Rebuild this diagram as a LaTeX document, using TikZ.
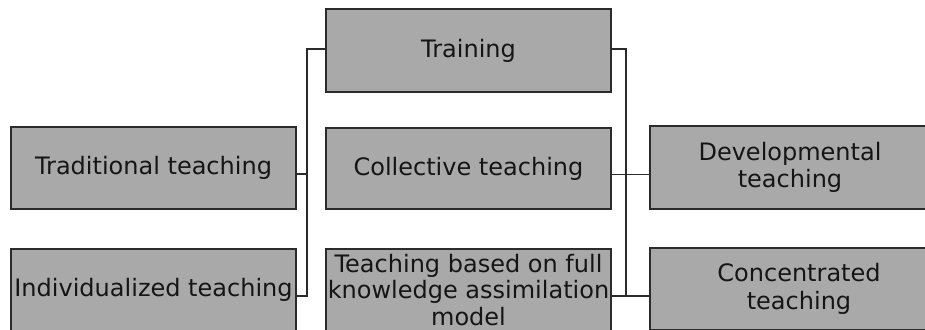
\documentclass[tikz,border=0pt]{standalone}
\usepackage{fontspec}
\setmainfont{DejaVu Sans}
\definecolor{boxfill}{HTML}{A9A9A9}
\definecolor{boxline}{HTML}{2B2B2B}
\definecolor{txt}{HTML}{151515}
\begin{document}
\begin{tikzpicture}[x=1pt,y=-1pt,
  box/.style={draw=boxline,fill=boxfill,line width=1.3pt,inner sep=0pt,align=center,
    text=txt,font=\fontsize{24}{27.5}\selectfont},
  conn/.style={draw=boxline,line width=1.2pt}]
\useasboundingbox (0,0) rectangle (925,329);
\node[box,line width=2pt,minimum width=285pt,minimum height=83pt] (train) at (468.5,50.5) {Training};
\node[box,minimum width=285pt,minimum height=82pt] (trad) at (153.5,168) {Traditional teaching};
\node[box,minimum width=285pt,minimum height=81pt] (coll) at (468.5,168.5) {Collective teaching};
\node[box,minimum width=280pt,minimum height=83pt] (dev) at (790,167.5) {Developmental\\teaching};
\node[box,minimum width=285pt,minimum height=82pt] (indiv) at (153.5,290) {Individualized teaching};
\node[box,minimum width=285pt,minimum height=82pt,font=\fontsize{24}{26.5}\selectfont] (full) at (468.5,290) {Teaching based on full\\knowledge assimilation\\model};
\node[box,minimum width=298pt,minimum height=82pt] (conc) at (799,289) {Concentrated\\teaching};
% attachment points
\coordinate (tw) at ([yshift=1.5pt]train.west);
\coordinate (te) at ([yshift=1.5pt]train.east);
\coordinate (trE) at ([yshift=-6pt]trad.east);
\coordinate (inE) at ([yshift=-6pt]indiv.east);
\coordinate (coE) at ([yshift=-6pt]coll.east);
\coordinate (fuE) at (inE -| full.east);
% left connector
\draw[conn] (tw) -- ++(-18,0) coordinate (L) -- (L |- inE) -- (inE);
\draw[conn] (trE) -- (L |- trE);
% right connector
\draw[conn] (te) -- ++(14,0) coordinate (R) -- (R |- fuE) -- (fuE);
\draw[conn] (coE) -- (coE -| dev.west);
\draw[conn] (fuE) -- (fuE -| conc.west);
\end{tikzpicture}
\end{document}
